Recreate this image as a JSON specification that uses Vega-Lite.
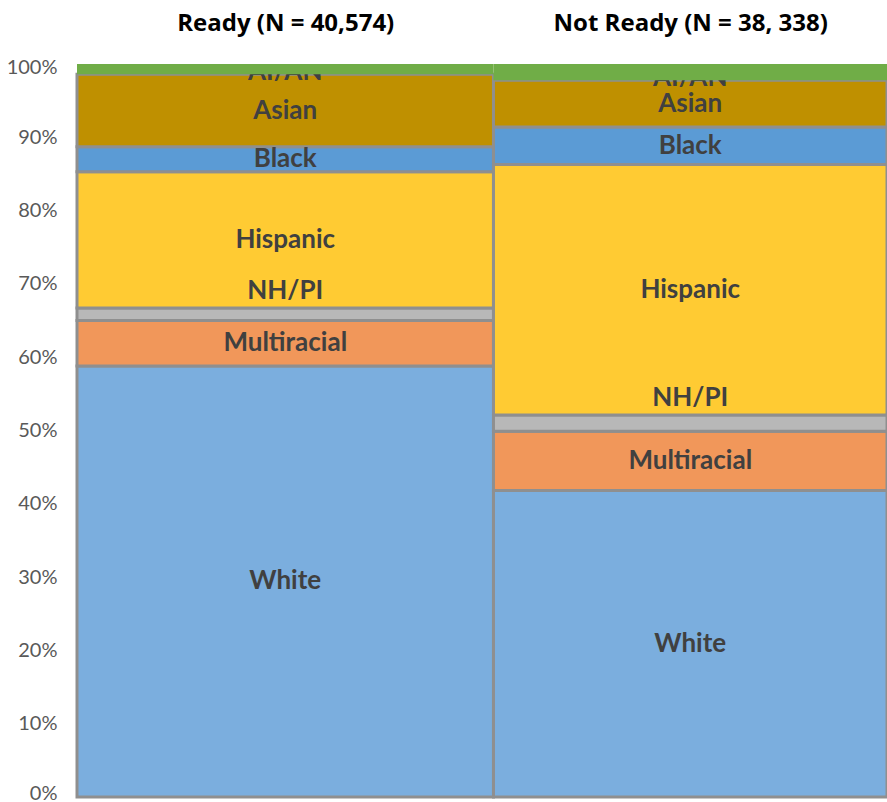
{
  "$schema": "https://vega.github.io/schema/vega-lite/v6.json",
  "width": 810,
  "height": 733,
  "autosize": "none",
  "padding": {"left": 77, "top": 64, "right": 0, "bottom": 5},
  "background": "white",
  "config": {"view": {"stroke": null}, "font": "Lato"},
  "data": {"values": [
    {"group": "Ready", "N": 40574, "cat": "White", "order": 1, "pct": 58.8},
    {"group": "Ready", "N": 40574, "cat": "Multiracial", "order": 2, "pct": 6.2},
    {"group": "Ready", "N": 40574, "cat": "NH/PI", "order": 3, "pct": 1.7},
    {"group": "Ready", "N": 40574, "cat": "Hispanic", "order": 4, "pct": 18.6},
    {"group": "Ready", "N": 40574, "cat": "Black", "order": 5, "pct": 3.4},
    {"group": "Ready", "N": 40574, "cat": "Asian", "order": 6, "pct": 9.9},
    {"group": "Ready", "N": 40574, "cat": "AI/AN", "order": 7, "pct": 1.4},
    {"group": "Not Ready", "N": 38338, "cat": "White", "order": 1, "pct": 41.8},
    {"group": "Not Ready", "N": 38338, "cat": "Multiracial", "order": 2, "pct": 8.1},
    {"group": "Not Ready", "N": 38338, "cat": "NH/PI", "order": 3, "pct": 2.2},
    {"group": "Not Ready", "N": 38338, "cat": "Hispanic", "order": 4, "pct": 34.2},
    {"group": "Not Ready", "N": 38338, "cat": "Black", "order": 5, "pct": 5.1},
    {"group": "Not Ready", "N": 38338, "cat": "Asian", "order": 6, "pct": 6.4},
    {"group": "Not Ready", "N": 38338, "cat": "AI/AN", "order": 7, "pct": 2.2}
  ]},
  "transform": [
    {"stack": "N", "groupby": ["cat"], "sort": [{"field": "N", "order": "descending"}], "as": ["x0", "x1"]},
    {"stack": "pct", "groupby": ["group"], "sort": [{"field": "order", "order": "ascending"}], "as": ["y0", "y1"]},
    {"calculate": "(datum.x0 + datum.x1) / 2", "as": "xm"},
    {"calculate": "(datum.y0 + datum.y1) / 2", "as": "ym"}
  ],
  "layer": [
    {
      "transform": [{"filter": "datum.cat !== 'AI/AN'"}],
      "mark": {"type": "rect", "stroke": "#8f8f8f", "strokeWidth": 3},
      "encoding": {
        "x": {"field": "x0", "type": "quantitative",
          "scale": {"domain": [0, 78912], "nice": false, "zero": true},
          "axis": {"orient": "top", "title": null, "values": [20287, 59743], "domain": false, "ticks": false,
            "labelExpr": "datum.value < 40000 ? 'Ready (N = 40,574)' : 'Not Ready (N = 38, 338)'",
            "labelFont": "Open Sans", "labelFontSize": 24, "labelFontWeight": "bold", "labelColor": "#000000",
            "labelPadding": 29, "labelLimit": 0, "labelOverlap": false, "grid": false}},
        "x2": {"field": "x1"},
        "y": {"field": "y0", "type": "quantitative",
          "scale": {"domain": [0, 100], "nice": false},
          "axis": {"title": null, "values": [0, 10, 20, 30, 40, 50, 60, 70, 80, 90, 100], "domain": false, "ticks": false, "grid": false,
            "labelExpr": "datum.value + '%'", "labelFont": "Lato", "labelFontSize": 20, "labelColor": "#595959", "labelPadding": 20,
            "labelOverlap": false, "labelFlush": false,
            "labelOffset": {"condition": [{"test": "datum.value <= 0", "value": -4}, {"test": "datum.value >= 100", "value": 3}], "value": 0}}},
        "y2": {"field": "y1"},
        "color": {"field": "cat", "type": "nominal", "legend": null,
          "scale": {"domain": ["White", "Multiracial", "NH/PI", "Hispanic", "Black", "Asian", "AI/AN"],
            "range": ["#7BAEDE", "#F1975A", "#B8B8B8", "#FFCB33", "#5B9BD5", "#BF9000", "#70AD47"]}}
      }
    },
    {
      "transform": [{"filter": "datum.cat !== 'AI/AN' && datum.cat !== 'NH/PI'"}],
      "mark": {"type": "text", "font": "Lato", "fontSize": 26, "fontWeight": "bold", "color": "#404040", "baseline": "middle", "align": "center"},
      "encoding": {
        "x": {"field": "xm", "type": "quantitative"},
        "y": {"field": "ym", "type": "quantitative"},
        "text": {"field": "cat"}
      }
    },
    {
      "transform": [{"filter": "datum.cat === 'NH/PI'"}],
      "mark": {"type": "text", "font": "Lato", "fontSize": 26, "fontWeight": "bold", "color": "#404040", "baseline": "bottom", "align": "center", "dy": -4},
      "encoding": {
        "x": {"field": "xm", "type": "quantitative"},
        "y": {"field": "y1", "type": "quantitative"},
        "text": {"field": "cat"}
      }
    },
    {
      "transform": [{"filter": "datum.cat === 'AI/AN'"}],
      "mark": {"type": "text", "font": "Lato", "fontSize": 26, "fontWeight": "bold", "color": "#404040", "baseline": "middle", "align": "center", "dy": -2, "clip": true},
      "encoding": {
        "x": {"field": "xm", "type": "quantitative"},
        "y": {"field": "y0", "type": "quantitative"},
        "text": {"field": "cat"}
      }
    },
    {
      "transform": [{"filter": "datum.cat === 'AI/AN'"}],
      "mark": {"type": "rect"},
      "encoding": {
        "x": {"field": "x0", "type": "quantitative"},
        "x2": {"field": "x1"},
        "y": {"field": "y0", "type": "quantitative"},
        "y2": {"field": "y1"},
        "color": {"field": "cat", "type": "nominal", "legend": null}
      }
    }
  ]
}
